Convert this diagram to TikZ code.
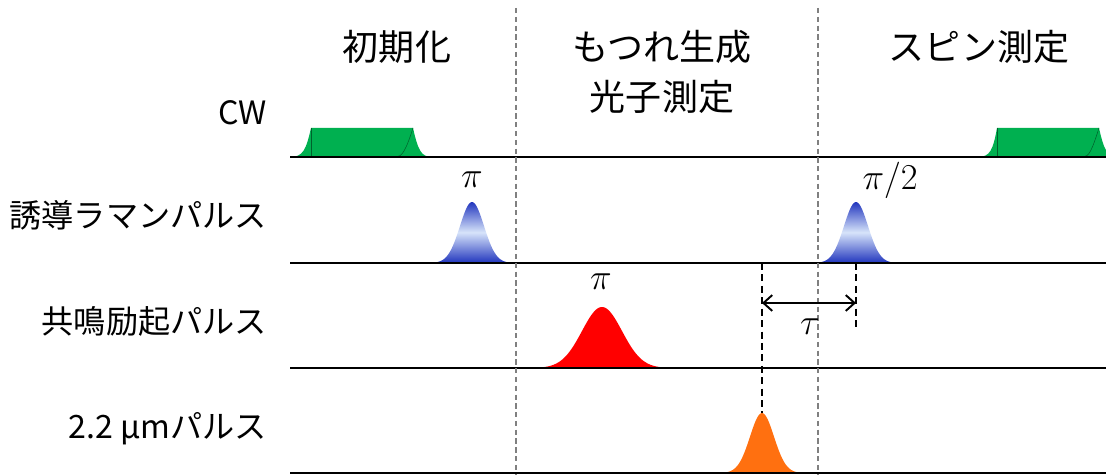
\documentclass[tikz,border=0pt]{standalone}
\usepackage{fontspec}
\setmainfont{Noto Sans CJK JP}
\usetikzlibrary{arrows.meta}
\definecolor{cwgreen}{RGB}{0,176,80}
\definecolor{ramanblue}{RGB}{35,55,190}
\definecolor{ramanlight}{RGB}{215,228,250}
\definecolor{exred}{RGB}{255,0,0}
\definecolor{irorange}{RGB}{255,112,16}
\begin{document}
\begin{tikzpicture}[x=0.02cm,y=-0.02cm,
  axis/.style={draw,line width=1.6pt},
  phase/.style={draw,gray,line width=0.7pt,dash pattern=on 3pt off 2pt},
  marker/.style={draw,black,line width=0.9pt,dash pattern=on 4pt off 2.5pt},
  edge/.style={draw,cwgreen!55!black,line width=0.3pt},
  ramanpulse/.style={top color=ramanblue,bottom color=ramanblue,middle color=ramanlight},
  head/.style={font=\fontsize{20.5}{28}\selectfont,align=center},
  lab/.style={font=\fontsize{18.3}{22}\selectfont,anchor=east},
  ang/.style={font=\fontsize{21}{24}\selectfont}]
\clip (0,0) rectangle (1106,475);

% CW
\fill[cwgreen] (290,157) .. controls (303,157) and (306,150) .. (311,128) -- (413,128)
  .. controls (418,150) and (421,157) .. (432,157) -- cycle;
\path[edge] (311,128) -- (311,157);
\path[edge] (413,128) .. controls (406,150) and (402,157) .. (396,157);
\fill[cwgreen] (978,157) .. controls (990,157) and (993,150) .. (997,128) -- (1099,128)
  .. controls (1104,150) and (1107,157) .. (1118,157) -- cycle;
\path[edge] (997,128) -- (997,157);
\path[edge] (1099,128) .. controls (1092,150) and (1089,157) .. (1083,157);

% pulses
\shade[ramanpulse]
  plot[domain=-38:38,samples=60] ({472+\x},{263-61*exp(-(\x*\x)/288)});
\shade[ramanpulse]
  plot[domain=-38:38,samples=60] ({856+\x},{263-61*exp(-(\x*\x)/288)});
\fill[exred] plot[domain=-64:64,samples=80] ({602+\x},{368-61*exp(-(\x*\x)/800)});
\fill[irorange] plot[domain=-38:38,samples=60] ({762+\x},{473-60*exp(-(\x*\x)/288)});

% time axes
\path[axis] (290,157) -- (1106,157);
\path[axis] (290,263) -- (1106,263);
\path[axis] (290,368) -- (1106,368);
\path[axis] (290,473) -- (1106,473);

% phases
\path[phase] (516,8) -- (516,475);
\path[phase] (818,8) -- (818,475);

\node[head] (init) at (397,47) {初期化};
\node[head] (ent) at (662,72) {もつれ生成\\光子測定};
\node[head] (spin) at (979,47) {スピン測定};

\node[lab] (cw) at (273,113) {CW};
\node[lab] (raman) at (273,215) {誘導ラマンパルス};
\node[lab] (res) at (273,321) {共鳴励起パルス};
\node[lab] (ir) at (273,429) {2.2 μmパルス};

\node[ang] (pi1) at (472,180) {$\pi$};
\node[ang] (pi2) at (890,180) {$\pi/2$};
\node[ang] (pi3) at (601,282) {$\pi$};

% delay
\coordinate (irtop) at (762,263);
\coordinate (irpeak) at (762,413);
\coordinate (spintop) at (856,263);
\coordinate (spinend) at (856,328);
\coordinate (tauL) at (762,303);
\coordinate (tauR) at (856,303);
\path[marker] (irtop) -- (irpeak);
\path[marker] (spintop) -- (spinend);
\path[draw,line width=1.1pt,{Straight Barb[length=5pt,width=9pt]}-{Straight Barb[length=5pt,width=9pt]}] (tauL) -- (tauR);
\node[ang] (tau) at (810,327) {$\tau$};
\end{tikzpicture}
\end{document}
